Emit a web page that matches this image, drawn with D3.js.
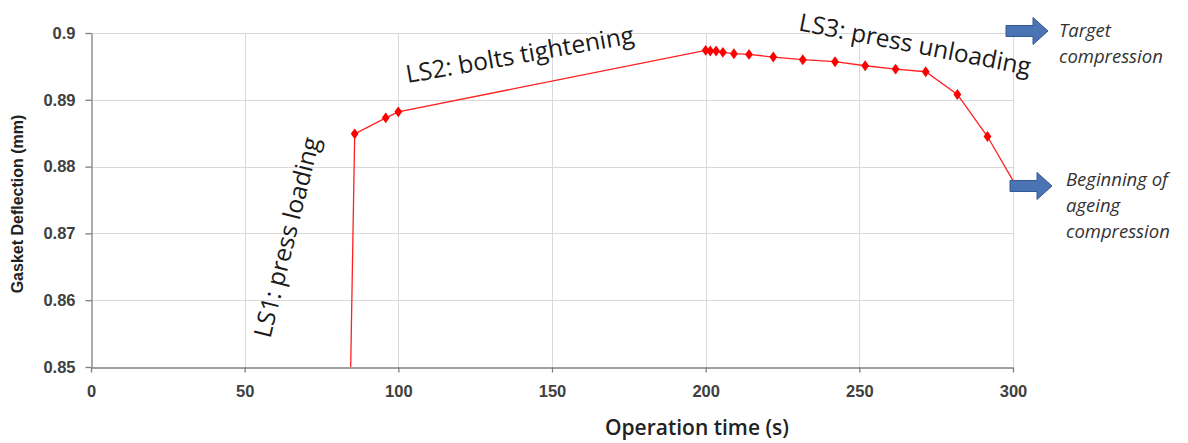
<!DOCTYPE html>
<html>
<head>
<meta charset="utf-8">
<script src="https://cdn.jsdelivr.net/npm/d3@7"></script>
<style>
  html, body { margin: 0; padding: 0; background: #fff; }
  svg { display: block; }
</style>
</head>
<body>
<svg id="chart" width="1188" height="443"></svg>
<script>
/* ── Data ────────────────────────────────────────────────── */
const timeSec = [84.5, 85.8, 95.9, 100.0, 200.0, 201.5, 203.4, 205.6, 209.2, 214.1, 222.0,
                 231.6, 242.1, 251.9, 261.8, 271.6, 281.9, 291.7, 300.0];
const deflection = [0.8500, 0.8849, 0.8873, 0.8882, 0.8974, 0.8973, 0.8973, 0.8971, 0.8969, 0.8968, 0.8964,
                    0.8960, 0.8957, 0.8951, 0.8946, 0.8942, 0.8908, 0.8845, 0.8779];
const hasMarker = [false, true, true, true, true, true, true, true, true, true, true,
                   true, true, true, true, true, true, true, false];

const xTicks = [0, 50, 100, 150, 200, 250, 300];
const yTicks = [0.85, 0.86, 0.87, 0.88, 0.89, 0.9];

// load-step labels: start of baseline in data units, rotation in degrees
const stepLabels = ['LS1: press loading', 'LS2: bolts tightening', 'LS3: press unloading'];
const stepX = [58.3, 103.0, 230.0];
const stepY = [0.8542, 0.8925, 0.9004];
const stepAngle = [-76, -10, 11];

// arrows on the right edge, pointing out of the plot
const arrowY = [0.9003, 0.8771];
const arrowText = [['Target', 'compression'], ['Beginning of', 'ageing', 'compression']];

/* ── Layout ──────────────────────────────────────────────── */
const margin = { top: 33, left: 91, right: 1188 - 1013, bottom: 443 - 367 };
const W = 1188, H = 443;
const svg = d3.select('#chart');

const x = d3.scaleLinear().domain([0, 300]).range([margin.left, W - margin.right]);
const y = d3.scaleLinear().domain([0.85, 0.9]).range([H - margin.bottom, margin.top]);

/* ── Grid ────────────────────────────────────────────────── */
const grid = svg.append('g').attr('stroke', '#d9d9d9').attr('stroke-width', 1);
grid.selectAll('line.gx').data(xTicks.slice(1)).join('line')
  .attr('x1', d => Math.round(x(d)) + 0.5).attr('x2', d => Math.round(x(d)) + 0.5)
  .attr('y1', y(0.9)).attr('y2', y(0.85));
grid.selectAll('line.gy').data(yTicks.slice(1)).join('line')
  .attr('y1', d => Math.round(y(d)) + 0.5).attr('y2', d => Math.round(y(d)) + 0.5)
  .attr('x1', x(0)).attr('x2', x(300));

/* ── Axes ────────────────────────────────────────────────── */
const xAxis = svg.append('g')
  .attr('transform', `translate(0,${Math.round(y(0.85)) + 0.5})`)
  .call(d3.axisBottom(x).tickValues(xTicks).tickSizeInner(5).tickSizeOuter(0).tickPadding(13));
const yAxis = svg.append('g')
  .attr('transform', `translate(${Math.round(x(0)) + 0.5},0)`)
  .call(d3.axisLeft(y).tickValues(yTicks).tickFormat(d3.format('')).tickSizeInner(6).tickSizeOuter(0).tickPadding(10));

[xAxis, yAxis].forEach(a => {
  a.select('.domain').attr('stroke', '#7f7f7f').attr('stroke-width', 1.3);
  a.selectAll('.tick line').attr('stroke', '#7f7f7f').attr('stroke-width', 1.3);
  a.selectAll('.tick text')
    .attr('fill', '#404040')
    .style('font-family', '"Liberation Sans", Arial, sans-serif')
    .style('font-size', '16.5px')
    .style('font-weight', 'bold');
});

/* ── Series ──────────────────────────────────────────────── */
const pts = timeSec.map((t, i) => ({ t, v: deflection[i], m: hasMarker[i] }));
const line = d3.line().x(d => x(d.t)).y(d => y(d.v));

svg.append('path')
  .datum(pts)
  .attr('d', line)
  .attr('fill', 'none')
  .attr('stroke', '#ff2020')
  .attr('stroke-width', 1.3);

svg.append('g').selectAll('path')
  .data(pts.filter(d => d.m))
  .join('path')
  .attr('transform', d => `translate(${x(d.t)},${y(d.v)}) scale(1.25,1)`)
  .attr('d', d3.symbol(d3.symbolDiamond, 34))
  .attr('fill', '#ff0000');

/* ── Axis titles ─────────────────────────────────────────── */
svg.append('text')
  .attr('transform', `translate(23,${(y(0.85) + y(0.9)) / 2 + 4}) rotate(-90)`)
  .attr('text-anchor', 'middle')
  .style('font-family', '"Liberation Sans", Arial, sans-serif')
  .style('font-size', '16px').style('font-weight', 'bold')
  .attr('fill', '#222')
  .text('Gasket Deflection (mm)');

svg.append('text')
  .attr('x', 697).attr('y', 435)
  .attr('text-anchor', 'middle')
  .style('font-family', '"Open Sans", sans-serif')
  .style('font-size', '21px').style('font-weight', 600)
  .attr('fill', '#222')
  .text('Operation time (s)');

/* ── Load-step labels ────────────────────────────────────── */
svg.append('g').selectAll('text')
  .data(stepLabels)
  .join('text')
  .attr('transform', (d, i) => `translate(${x(stepX[i])},${y(stepY[i])}) rotate(${stepAngle[i]})`)
  .style('font-family', '"Open Sans", sans-serif')
  .style('font-size', '24.5px')
  .attr('fill', '#1a1a1a')
  .text(d => d);

/* ── Right-hand arrows and notes ─────────────────────────── */
const arrowShape = 'M0,-5.5 L27,-5.5 L27,-13.5 L42,0 L27,13.5 L27,5.5 L0,5.5 Z';
const notes = svg.append('g').selectAll('g')
  .data(arrowY)
  .join('g')
  .attr('transform', (d, i) => `translate(${x(300) - (i === 0 ? 7 : 3)},${y(d)})`);

notes.append('path')
  .attr('d', arrowShape)
  .attr('fill', '#4a74b4')
  .attr('stroke', '#35588f')
  .attr('stroke-width', 1);

notes.each(function (d, i) {
  const tx = i === 0 ? 53 : 56;
  const t = d3.select(this).append('text')
    .attr('y', i === 0 ? 6 : 0)
    .style('font-family', '"Open Sans", sans-serif')
    .style('font-size', '18.5px').style('font-style', 'italic')
    .attr('fill', '#333');
  t.selectAll('tspan').data(arrowText[i]).join('tspan')
    .attr('x', tx)
    .attr('dy', (s, k) => k === 0 ? 0 : 26)
    .text(s => s);
});
</script>
</body>
</html>
